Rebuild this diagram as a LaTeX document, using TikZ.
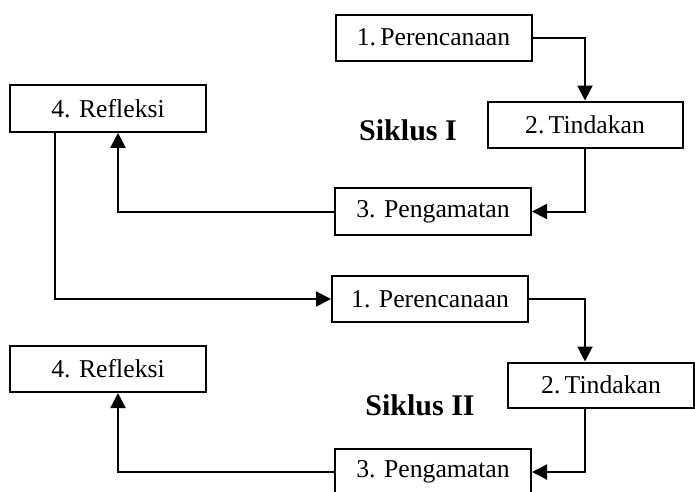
\documentclass[tikz,border=0pt]{standalone}
\usepackage{fontspec}
\setmainfont{Liberation Serif}
\usetikzlibrary{arrows.meta}
\begin{document}
\begin{tikzpicture}[x=1pt,y=-1pt,
  stepbox/.style={draw,line width=2pt,minimum width=196pt,minimum height=46pt,inner sep=0pt,font=\fontsize{25.7}{29}\selectfont},
  conn/.style={line width=2pt},
  arr/.style={conn,-{Triangle[width=15pt,length=15pt]}},
  lbl/.style={font=\fontsize{30}{34}\selectfont\bfseries}]
\clip (0,0) rectangle (695,491);
\fill[white] (0,0) rectangle (695,491);
% Siklus I
\node[stepbox] (p1) at (433.5,37.5) {1.\,Perencanaan};
\node[stepbox,minimum width=195pt] (t1) at (585,124.5) {2.\,Tindakan};
\node[stepbox,minimum height=47pt] (g1) at (433,211.5) {3. Pengamatan};
\node[stepbox,minimum height=47pt] (r1) at (108,108.3) {4. Refleksi};
\node[lbl] (s1) at (408,130) {Siklus I};
% Siklus II
\node[stepbox] (p2) at (430,299) {1. Perencanaan};
\node[stepbox,minimum width=186pt,minimum height=45pt] (t2) at (601,385) {2.\,Tindakan};
\node[stepbox] (r2) at (108,369) {4. Refleksi};
\node[stepbox] (g2) at (433,472) {3. Pengamatan};
\node[lbl] (s2) at (420,405) {Siklus II};
% connectors
\draw[arr] (p1.east) -| (t1.north);
\draw[arr] (t1.south) |- (g1.east);
\draw[arr] (g1.west) -| ([xshift=10pt]r1.south);
\draw[arr] ([xshift=-53pt]r1.south) |- (p2.west);
\draw[arr] (p2.east) -| ([xshift=-16pt]t2.north);
\draw[arr] ([xshift=-16pt]t2.south) |- (g2.east);
\draw[arr] (g2.west) -| ([xshift=10pt]r2.south);
\end{tikzpicture}
\end{document}
